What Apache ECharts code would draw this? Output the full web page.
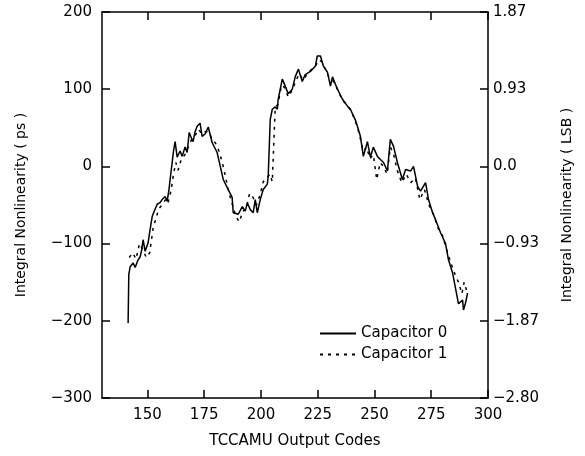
<!DOCTYPE html>
<html>
<head>
<meta charset="utf-8">
<script src="https://cdn.jsdelivr.net/npm/echarts@6/dist/echarts.min.js"></script>
<style>
  html, body { margin: 0; padding: 0; background: #fff; }
  #chart { width: 585px; height: 456px; }
</style>
</head>
<body>
<div id="chart"></div>
<script>
const xTicks = [150, 175, 200, 225, 250, 275, 300];
const leftTicks = [-300, -200, -100, 0, 100, 200];
const rightLabels = ["\u22122.80", "\u22121.87", "\u22120.93", "0.0", "0.93", "1.87"];

// Capacitor 0 (solid)
const cap0X = [141.5, 141.8, 142.4, 143.7, 144.6, 145.9, 146.8, 147.5, 148.1, 149.0, 150.3, 151, 152.1, 153, 154.3, 155.5, 156.5, 157.8, 158.7, 159.5, 160, 160.9, 161.5, 162.2, 163.1, 164.4, 165.3, 166.6, 167.5, 168.4, 169.2, 170.1, 171.0, 171.9, 173.2, 174.1, 175.4, 176.8, 178.5, 180.7, 182.1, 183.4, 185.6, 187.3, 187.8, 190, 191.8, 193.1, 194, 195.3, 196.6, 197.5, 198.4, 199.7, 201, 202.8, 203.2, 204.1, 205, 206.3, 207.2, 207.6, 209.4, 210.7, 212, 213.8, 215.1, 216.5, 218.2, 219.5, 221.8, 224, 224.8, 226.2, 227.5, 229.3, 230.6, 231.5, 233.7, 235.9, 238.1, 239.4, 241.6, 242.9, 243.8, 245.1, 246.9, 248.2, 249.5, 251.3, 252.6, 254, 255.7, 257, 258.4, 260.1, 262.3, 263.7, 265.9, 267.2, 269, 270.3, 272.5, 273.8, 275.6, 276.9, 279.1, 281.3, 282.6, 284.4, 285.7, 287, 288.8, 289.2, 290.1, 291];
const cap0Y = [-203, -140, -130, -125, -131, -121, -117, -108, -95, -110, -99, -85, -65, -58, -49, -47, -43, -39, -45, -30, -17, 5, 20, 32, 12, 20, 13, 25, 18, 44, 38, 32, 45, 52, 56, 39, 42, 51, 31, 18, 0, -17, -30, -40, -60, -62, -52, -58, -47, -56, -60, -43, -60, -43, -30, -23, -13, 61, 74, 77, 74, 87, 113, 104, 94, 100, 116, 126, 110, 119, 123, 130, 143, 143, 130, 122, 104, 116, 100, 87, 78, 74, 60, 48, 39, 13, 32, 12, 25, 13, 9, 5, -6, 35, 26, 5, -17, -4, -6, 0, -26, -32, -21, -43, -60, -69, -86, -100, -121, -138, -158, -178, -173, -186, -177, -164];

// Capacitor 1 (dashed)
const cap1X = [142, 143.5, 145, 146.5, 148, 149.5, 151, 152.5, 153.5, 155, 156.5, 158, 159, 160.5, 161.5, 162.5, 163.5, 165, 166.5, 168, 169.5, 171, 172.5, 174, 175.5, 177, 178.5, 180, 181.5, 183, 184.5, 186, 187.5, 189, 190.5, 192, 193.5, 195, 196.5, 198, 199.5, 201, 202.5, 204, 205, 205.5, 205.8, 206.3, 207.5, 209, 210.5, 212, 214, 215.5, 217, 218.5, 220, 222, 224, 225.5, 227, 228.5, 230, 232, 234, 236, 238, 240, 242, 243.5, 245, 246.5, 248, 249.5, 251, 252.5, 254, 255.5, 257, 258.5, 260, 262, 264, 266, 268, 270, 272, 274, 276, 278, 280, 282, 284, 285.5, 287, 288.5, 289.5, 290.5];
const cap1Y = [-118, -112, -120, -100, -108, -118, -112, -80, -70, -55, -50, -43, -48, -30, -10, 5, -5, 10, 15, 25, 35, 40, 48, 42, 45, 45, 35, 30, 20, 5, -15, -35, -50, -65, -72, -58, -55, -35, -40, -50, -38, -20, -15, -10, -20, -21, 40, 77, 80, 105, 102, 90, 100, 112, 120, 112, 118, 125, 130, 138, 135, 125, 115, 110, 98, 85, 80, 70, 55, 40, 20, 25, 10, 15, -17, 5, 0, -10, 25, 15, -5, -21, -10, -21, -15, -43, -30, -50, -62, -80, -90, -110, -128, -140, -150, -165, -150, -160];

const font = "DejaVu Sans";
const chart = echarts.init(document.getElementById("chart"));

const axisLineStyle = { color: "#000", width: 1.5 };
const tickStyle = { show: true, inside: true, length: 8, lineStyle: { color: "#000", width: 1.5 } };

const option = {
  animation: false,
  backgroundColor: "#fff",
  grid: { left: 102, right: 97, top: 12, bottom: 58 },
  legend: {
    orient: "vertical",
    left: 314,
    top: 321,
    itemWidth: 36,
    itemHeight: 10,
    itemGap: 6,
    itemStyle: { opacity: 0 },
    textStyle: { fontFamily: font, fontSize: 15, color: "#000" },
    data: ["Capacitor 0", "Capacitor 1"],
  },
  xAxis: [
    {
      type: "value",
      position: "bottom",
      min: 130,
      max: 300,
      name: "TCCAMU Output Codes",
      nameLocation: "middle",
      nameGap: 36,
      nameTextStyle: { fontFamily: font, fontSize: 15, color: "#000" },
      axisLine: { onZero: false, lineStyle: axisLineStyle },
      axisTick: Object.assign({}, tickStyle, { customValues: xTicks }),
      axisLabel: {
        customValues: xTicks,
        fontFamily: font,
        fontSize: 15,
        color: "#000",
        margin: 10,
      },
      splitLine: { show: false },
    },
    {
      type: "value",
      position: "top",
      min: 130,
      max: 300,
      axisLine: { onZero: false, lineStyle: axisLineStyle },
      axisTick: Object.assign({}, tickStyle, { customValues: xTicks }),
      axisLabel: { show: false },
      splitLine: { show: false },
    },
  ],
  yAxis: [
    {
      type: "value",
      position: "left",
      min: -300,
      max: 200,
      interval: 100,
      name: "Integral Nonlinearity ( ps )",
      nameLocation: "middle",
      nameGap: 74,
      nameTextStyle: { fontFamily: font, fontSize: 14, color: "#000" },
      axisLine: { show: true, onZero: false, lineStyle: axisLineStyle },
      axisTick: tickStyle,
      axisLabel: { fontFamily: font, fontSize: 15, color: "#000", margin: 10,
        formatter: (v) => (v < 0 ? "\u2212" + Math.abs(v) : String(v)) },
      splitLine: { show: false },
    },
    {
      type: "value",
      position: "right",
      min: -300,
      max: 200,
      interval: 100,
      name: "Integral Nonlinearity ( LSB )",
      nameLocation: "middle",
      nameGap: 72,
      nameRotate: 90,
      nameTextStyle: { fontFamily: font, fontSize: 14, color: "#000" },
      axisLine: { show: true, onZero: false, lineStyle: axisLineStyle },
      axisTick: tickStyle,
      axisLabel: {
        fontFamily: font,
        fontSize: 15,
        color: "#000",
        margin: 5,
        formatter: (v) => rightLabels[leftTicks.indexOf(v)],
      },
      splitLine: { show: false },
    },
  ],
  series: [
    {
      name: "Capacitor 0",
      type: "line",
      symbol: "none",
      data: cap0X.map((x, i) => [x, cap0Y[i]]),
      lineStyle: { color: "#000", width: 1.5 },
      itemStyle: { color: "#000" },
    },
    {
      name: "Capacitor 1",
      type: "line",
      symbol: "none",
      data: cap1X.map((x, i) => [x, cap1Y[i]]),
      lineStyle: { color: "#000", width: 1.5, type: [3, 5] },
      itemStyle: { color: "#000" },
    },
  ],
};

chart.setOption(option);
</script>
</body>
</html>
